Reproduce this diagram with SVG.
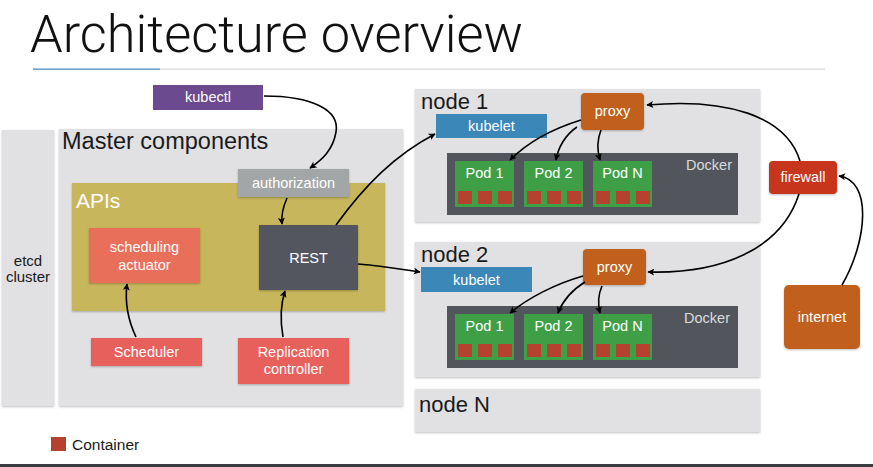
<svg xmlns="http://www.w3.org/2000/svg" width="873" height="467" viewBox="0 0 873 467">
  <defs>
    <marker id="arrow" viewBox="0 0 10 10" refX="9" refY="5" markerWidth="7" markerHeight="7" markerUnits="userSpaceOnUse" orient="auto">
      <path d="M0,0 L10,5 L0,10 L2.5,5 z" fill="#000"/>
    </marker>
    <filter id="shadow" x="-5%" y="-5%" width="110%" height="115%">
      <feDropShadow dx="0" dy="1" stdDeviation="0.8" flood-color="#000" flood-opacity="0.25"/>
    </filter>
    <style>
      text { font-family: "Liberation Sans", Arial, Helvetica, sans-serif; }
      .title { font-family: Roboto, "Liberation Sans", sans-serif; font-weight: 300; font-size: 51px; fill: #111; }
      .panel { fill: #e1e1e3; filter: url(#shadow); }
      .head { font-size: 22px; fill: #1a1a1a; }
      .big { font-size: 23.5px; }
      .lbl { font-size: 14.5px; fill: #fff; text-anchor: middle; }
      .pod { fill: #3f9f47; }
      .ctr { fill: #b5422e; }
      .docker { fill: #52565c; }
      .edge { fill: none; stroke: #000; stroke-width: 1.6; marker-end: url(#arrow); }
    </style>
  </defs>

  <rect width="873" height="467" fill="#fff"/>

  <!-- title and rule -->
  <text class="title" x="30" y="52" textLength="493" lengthAdjust="spacingAndGlyphs">Architecture overview</text>
  <rect x="33" y="68.5" width="792" height="1.2" fill="#d3d6da"/>
  <rect x="33" y="68.5" width="127" height="1.4" fill="#6d9cd2"/>

  <!-- etcd -->
  <g id="etcd">
    <rect class="panel" x="2" y="130" width="52" height="276"/>
    <text x="28" y="266" font-size="15" fill="#1a1a1a" text-anchor="middle">etcd</text>
    <text x="28" y="282" font-size="15" fill="#1a1a1a" text-anchor="middle">cluster</text>
  </g>

  <!-- master -->
  <g id="master">
    <rect class="panel" x="59" y="129" width="344" height="277"/>
    <text class="head big" x="62" y="149">Master components</text>
  </g>

  <g id="apis">
    <rect x="72" y="183" width="313" height="128" fill="#c8b65c" filter="url(#shadow)"/>
    <text x="76" y="208" font-size="21" fill="#fff">APIs</text>
  </g>

  <g id="kubectl">
    <rect x="153" y="85" width="110" height="25" fill="#6c4a90"/>
    <text class="lbl" x="208" y="102">kubectl</text>
  </g>

  <g id="authorization">
    <rect x="238" y="169" width="111" height="28" fill="#a3a6a6" filter="url(#shadow)"/>
    <text class="lbl" x="293.5" y="188">authorization</text>
  </g>

  <g id="rest">
    <rect x="259" y="225" width="99" height="65" fill="#53575e" filter="url(#shadow)"/>
    <text class="lbl" x="308.5" y="263">REST</text>
  </g>

  <g id="scheduling-actuator">
    <rect x="89" y="228" width="111" height="55" fill="#e8705a" filter="url(#shadow)"/>
    <text class="lbl" x="144.5" y="252">scheduling</text>
    <text class="lbl" x="144.5" y="270">actuator</text>
  </g>

  <g id="scheduler">
    <rect x="91" y="338" width="111" height="28" fill="#e8615b" filter="url(#shadow)"/>
    <text class="lbl" x="146.5" y="357">Scheduler</text>
  </g>

  <g id="replication-controller">
    <rect x="238" y="338" width="111" height="46" fill="#e8615b" filter="url(#shadow)"/>
    <text class="lbl" x="293.5" y="357">Replication</text>
    <text class="lbl" x="293.5" y="374">controller</text>
  </g>

  <!-- node 1 -->
  <g id="node1">
    <rect class="panel" x="415" y="89" width="345" height="133"/>
    <text class="head" x="421" y="109">node 1</text>
  </g>
  <g id="node1-kubelet">
    <rect x="436" y="114" width="111" height="24" fill="#3b87b8"/>
    <text class="lbl" x="491.5" y="131">kubelet</text>
  </g>
  <g id="node1-proxy">
    <rect x="581" y="93" width="63" height="37" rx="4" fill="#c1611b" filter="url(#shadow)"/>
    <text class="lbl" x="612.5" y="116">proxy</text>
  </g>
  <g id="node1-docker">
    <rect class="docker" x="447" y="153" width="291" height="62"/>
    <text x="732" y="170" font-size="14.5" fill="#d9dadc" text-anchor="end">Docker</text>
    <g>
      <rect class="pod" x="455" y="161" width="59" height="46"/>
      <text class="lbl" x="484.5" y="178">Pod 1</text>
      <rect class="ctr" x="458" y="191" width="14" height="13"/>
      <rect class="ctr" x="478" y="191" width="14" height="13"/>
      <rect class="ctr" x="498" y="191" width="14" height="13"/>
    </g>
    <g>
      <rect class="pod" x="524" y="161" width="59" height="46"/>
      <text class="lbl" x="553.5" y="178">Pod 2</text>
      <rect class="ctr" x="527" y="191" width="14" height="13"/>
      <rect class="ctr" x="547" y="191" width="14" height="13"/>
      <rect class="ctr" x="567" y="191" width="14" height="13"/>
    </g>
    <g>
      <rect class="pod" x="593" y="161" width="59" height="46"/>
      <text class="lbl" x="622.5" y="178">Pod N</text>
      <rect class="ctr" x="596" y="191" width="14" height="13"/>
      <rect class="ctr" x="616" y="191" width="14" height="13"/>
      <rect class="ctr" x="636" y="191" width="14" height="13"/>
    </g>
  </g>

  <!-- node 2 -->
  <g id="node2">
    <rect class="panel" x="415" y="242" width="345" height="135"/>
    <text class="head" x="421" y="262">node 2</text>
  </g>
  <g id="node2-kubelet">
    <rect x="421" y="267" width="111" height="25" fill="#3b87b8"/>
    <text class="lbl" x="476.5" y="285">kubelet</text>
  </g>
  <g id="node2-proxy">
    <rect x="583" y="249" width="63" height="36" rx="4" fill="#c1611b" filter="url(#shadow)"/>
    <text class="lbl" x="614.5" y="272">proxy</text>
  </g>
  <g id="node2-docker">
    <rect class="docker" x="447" y="306" width="291" height="62"/>
    <text x="730" y="323" font-size="14.5" fill="#d9dadc" text-anchor="end">Docker</text>
    <g>
      <rect class="pod" x="455" y="314" width="59" height="46"/>
      <text class="lbl" x="484.5" y="331">Pod 1</text>
      <rect class="ctr" x="458" y="344" width="14" height="13"/>
      <rect class="ctr" x="478" y="344" width="14" height="13"/>
      <rect class="ctr" x="498" y="344" width="14" height="13"/>
    </g>
    <g>
      <rect class="pod" x="524" y="314" width="59" height="46"/>
      <text class="lbl" x="553.5" y="331">Pod 2</text>
      <rect class="ctr" x="527" y="344" width="14" height="13"/>
      <rect class="ctr" x="547" y="344" width="14" height="13"/>
      <rect class="ctr" x="567" y="344" width="14" height="13"/>
    </g>
    <g>
      <rect class="pod" x="593" y="314" width="59" height="46"/>
      <text class="lbl" x="622.5" y="331">Pod N</text>
      <rect class="ctr" x="596" y="344" width="14" height="13"/>
      <rect class="ctr" x="616" y="344" width="14" height="13"/>
      <rect class="ctr" x="636" y="344" width="14" height="13"/>
    </g>
  </g>

  <!-- node N -->
  <g id="nodeN">
    <rect class="panel" x="415" y="389" width="345" height="43"/>
    <text class="head" x="419" y="412">node N</text>
  </g>

  <!-- external -->
  <g id="firewall">
    <rect x="769" y="161" width="68" height="33" rx="4" fill="#c7341a" filter="url(#shadow)"/>
    <text class="lbl" x="803" y="182">firewall</text>
  </g>
  <g id="internet">
    <rect x="784" y="285" width="76" height="64" rx="5" fill="#c1611b" filter="url(#shadow)"/>
    <text class="lbl" x="822" y="322">internet</text>
  </g>

  <!-- legend -->
  <g id="legend">
    <rect x="51" y="437" width="15" height="14" fill="#b5422e"/>
    <text x="72" y="450" font-size="15.5" fill="#1a1a1a">Container</text>
  </g>

  <!-- connectors -->
  <g id="connectors">
    <path class="edge" d="M264,96 C312,96 340,110 336,132 C333,150 322,160 310,168"/>
    <path class="edge" d="M287,198 C283,207 281,214 282,224"/>
    <path class="edge" d="M136,337 C127,318 125,300 127,284"/>
    <path class="edge" d="M283,337 C280,320 281,303 285,291"/>
    <path class="edge" d="M336,225 C365,185 395,155 435,134"/>
    <path class="edge" d="M358,264 C382,266 400,269 420,272"/>
    <path class="edge" d="M581,120 C555,128 530,140 510,160"/>
    <path class="edge" d="M577,127 C565,135 558,148 556,160"/>
    <path class="edge" d="M601,130 C597,140 597,150 600,160"/>
    <path class="edge" d="M583,276 C555,284 528,298 510,313"/>
    <path class="edge" d="M585,282 C572,290 563,300 558,313"/>
    <path class="edge" d="M602,286 C598,295 598,305 600,313"/>
    <path class="edge" d="M800,161 C786,115 725,98 647,105"/>
    <path class="edge" d="M799,194 C781,250 720,274 648,272"/>
    <path class="edge" d="M842,285 C868,240 872,180 839,176"/>
  </g>

  <!-- footer band -->
  <rect x="0" y="464" width="873" height="3" fill="#3a3d40"/>
</svg>
